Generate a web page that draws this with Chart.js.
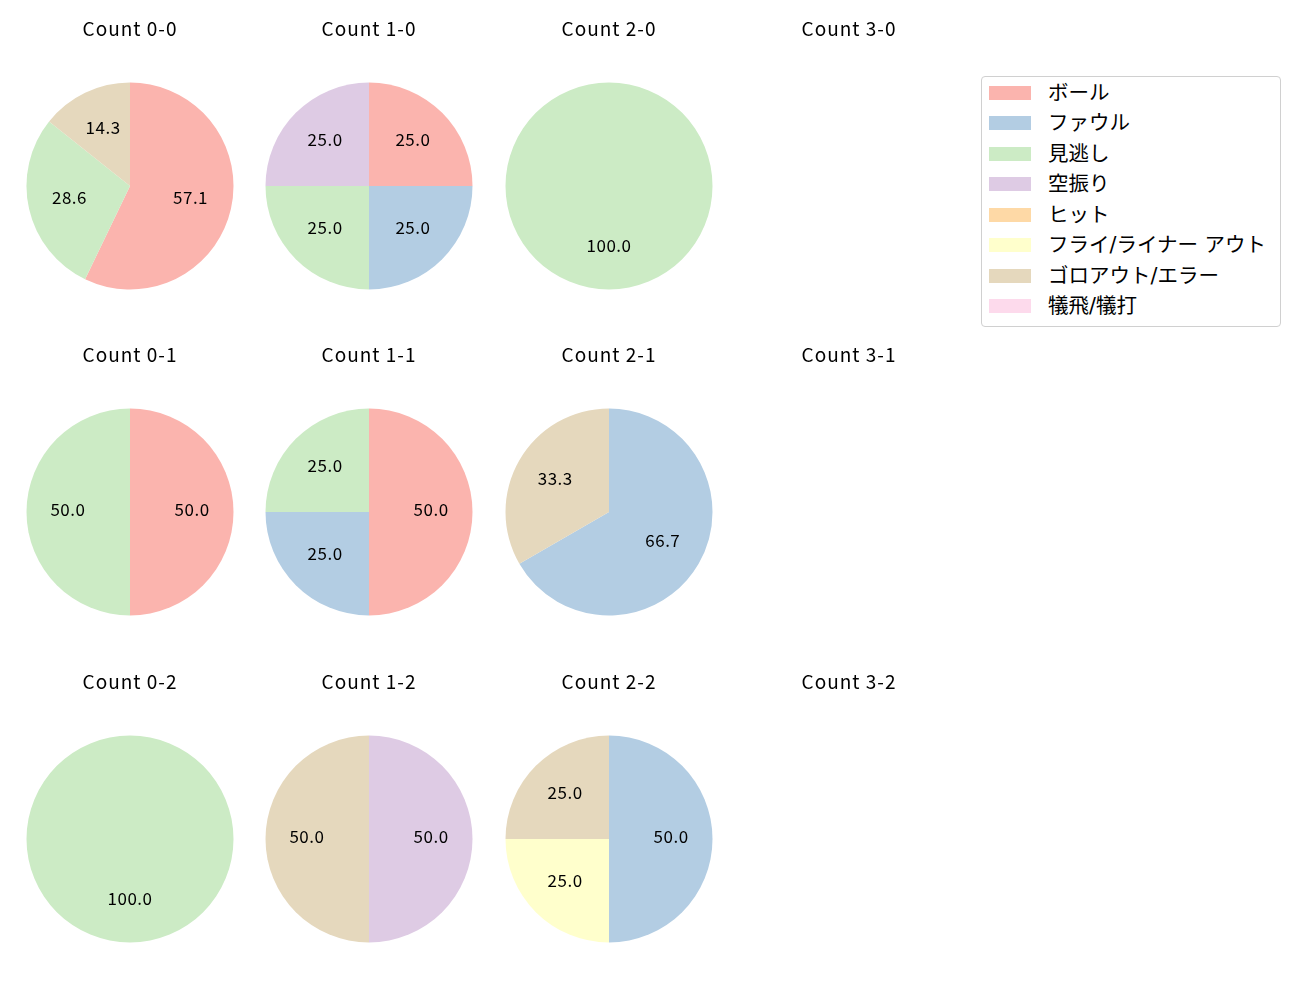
<!DOCTYPE html>
<html>
<head>
<meta charset="utf-8">
<script src="https://cdn.jsdelivr.net/npm/chart.js@4.4.1/dist/chart.umd.min.js"></script>
<style>
  body { margin: 0; background: #fff; width: 1300px; height: 1000px; position: relative; overflow: hidden; }
  canvas.cell { position: absolute; }
  #legend {
    position: absolute; left: 981px; top: 76px; width: 298px; height: 249px;
    border: 1px solid #d0d0d0; border-radius: 4px;
    font-family: "DejaVu Sans", "Noto Sans CJK JP", sans-serif; font-size: 20.5px; color: #000;
  }
  #legend .item { position: absolute; left: 0; height: 20px; }
  #legend .patch { position: absolute; left: 7px; top: 3px; width: 42px; height: 14px; }
  #legend .text { position: absolute; left: 66px; top: 0; line-height: 20px; white-space: nowrap; }
</style>
</head>
<body>
<div id="legend"></div>
<script>
// outcome categories and Pastel1 colours
const categories = ['ボール', 'ファウル', '見逃し', '空振り', 'ヒット', 'フライ/ライナー アウト', 'ゴロアウト/エラー', '犠飛/犠打'];
const colors = ['#fbb4ae', '#b3cde3', '#ccebc5', '#decbe4', '#fed9a6', '#ffffcc', '#e5d8bd', '#fddaec'];

// pitch counts per ball-strike count (order follows categories)
const count00 = [4, 0, 2, 0, 0, 0, 1, 0];
const count10 = [1, 1, 1, 1, 0, 0, 0, 0];
const count20 = [0, 0, 1, 0, 0, 0, 0, 0];
const count30 = [0, 0, 0, 0, 0, 0, 0, 0];
const count01 = [1, 0, 1, 0, 0, 0, 0, 0];
const count11 = [2, 1, 1, 0, 0, 0, 0, 0];
const count21 = [0, 2, 0, 0, 0, 0, 1, 0];
const count31 = [0, 0, 0, 0, 0, 0, 0, 0];
const count02 = [0, 0, 1, 0, 0, 0, 0, 0];
const count12 = [0, 0, 0, 1, 0, 0, 1, 0];
const count22 = [0, 2, 0, 0, 0, 1, 1, 0];
const count32 = [0, 0, 0, 0, 0, 0, 0, 0];

const titles = [
  ['Count 0-0', 'Count 1-0', 'Count 2-0', 'Count 3-0'],
  ['Count 0-1', 'Count 1-1', 'Count 2-1', 'Count 3-1'],
  ['Count 0-2', 'Count 1-2', 'Count 2-2', 'Count 3-2']
];
const grid = [
  [count00, count10, count20, count30],
  [count01, count11, count21, count31],
  [count02, count12, count22, count32]
];

const colX = [129.5, 369, 609, 849];
const rowY = [185.5, 512, 838.5];
const FONT = '"Noto Sans CJK JP", sans-serif';

// wider letter spacing for the titles
const spacing = {
  id: 'spacing',
  beforeDraw(chart) { chart.ctx.letterSpacing = '1px'; }
};

// percentage labels at 0.6 of the radius, like matplotlib autopct
const pctLabels = {
  id: 'pctLabels',
  afterDatasetsDraw(chart) {
    const ds = chart.data.datasets[0];
    const total = ds.data.reduce((a, b) => a + b, 0);
    if (!total) return;
    const ctx = chart.ctx;
    ctx.save();
    ctx.letterSpacing = '0.5px';
    ctx.font = '17px ' + FONT;
    ctx.fillStyle = '#000';
    ctx.textAlign = 'center';
    ctx.textBaseline = 'middle';
    chart.getDatasetMeta(0).data.forEach((arc, i) => {
      if (!ds.data[i]) return;
      const p = arc.getProps(['x', 'y', 'startAngle', 'endAngle', 'outerRadius'], true);
      const mid = (p.startAngle + p.endAngle) / 2;
      const r = p.outerRadius * 0.6;
      const txt = (ds.data[i] / total * 100).toFixed(1);
      ctx.fillText(txt, p.x + Math.cos(mid) * r, p.y + Math.sin(mid) * r - 2.5);
    });
    ctx.restore();
  }
};

grid.forEach((row, ri) => {
  row.forEach((vals, ci) => {
    const cv = document.createElement('canvas');
    cv.className = 'cell';
    cv.width = 240;
    cv.height = 290;
    cv.style.left = (colX[ci] - 120) + 'px';
    cv.style.top = (rowY[ri] - 180) + 'px';
    document.body.appendChild(cv);
    new Chart(cv.getContext('2d'), {
      type: 'pie',
      data: {
        labels: categories,
        datasets: [{ data: vals, backgroundColor: colors, borderWidth: 0 }]
      },
      options: {
        responsive: false,
        animation: false,
        layout: { padding: { left: 16.5, right: 16.5, bottom: 6.5, top: 0 } },
        plugins: {
          legend: { display: false },
          tooltip: { enabled: false },
          title: {
            display: true,
            text: titles[ri][ci],
            color: '#000',
            font: { family: FONT, size: 19, weight: 'normal', lineHeight: 1.2 },
            padding: { top: 11, bottom: 42.7 }
          }
        }
      },
      plugins: [spacing, pctLabels]
    });
  });
});

// legend box
const legend = document.getElementById('legend');
categories.forEach((c, i) => {
  const it = document.createElement('div');
  it.className = 'item';
  it.style.top = (5.5 + i * 30.57) + 'px';
  it.innerHTML = '<div class="patch" style="background:' + colors[i] + '"></div><div class="text">' + c + '</div>';
  legend.appendChild(it);
});
</script>
</body>
</html>
